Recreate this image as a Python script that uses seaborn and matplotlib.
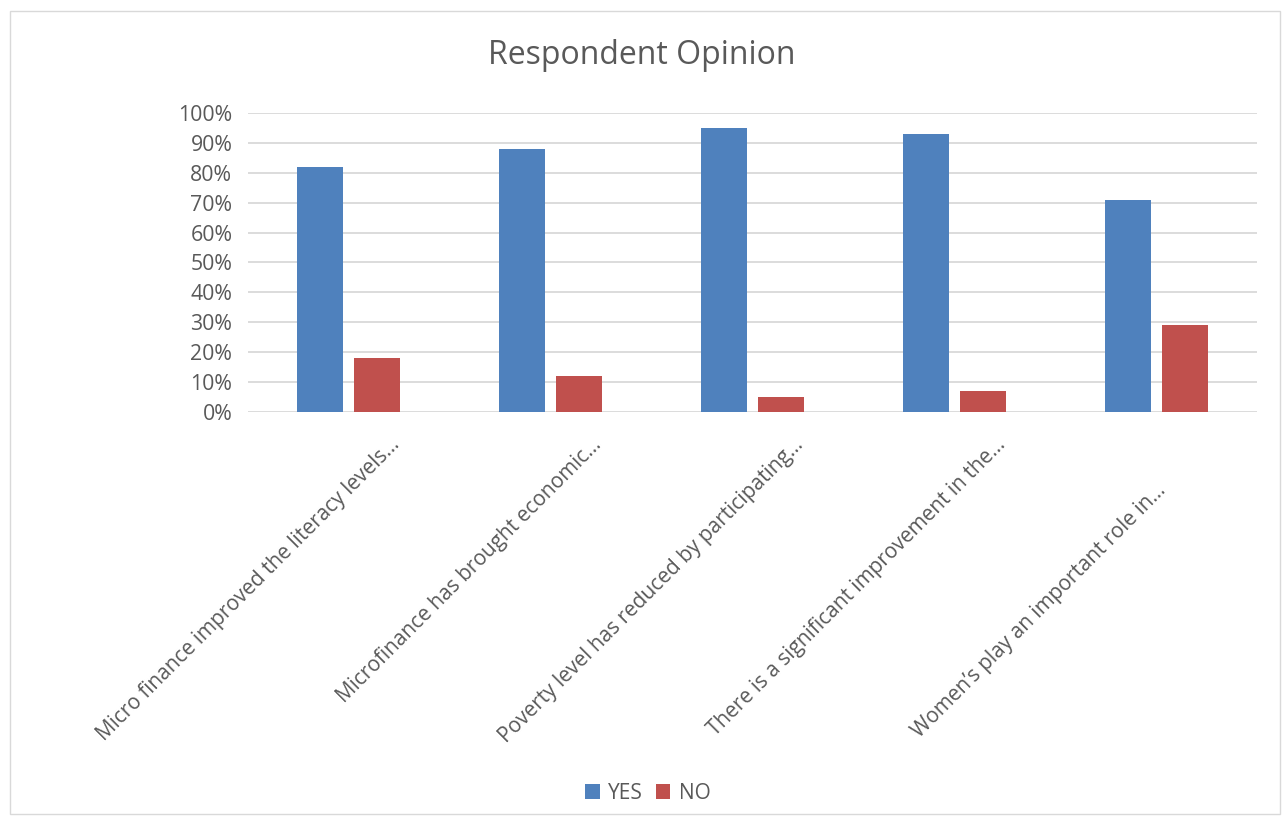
import matplotlib
matplotlib.use("Agg")
import matplotlib.pyplot as plt
import matplotlib.transforms as mtransforms
import seaborn as sns
import pandas as pd
from matplotlib.patches import Rectangle
from matplotlib.ticker import PercentFormatter

categories = [
    "Micro finance improved the literacy levels...",
    "Microfinance has brought economic...",
    "Poverty level has reduced by participating...",
    "There is a significant improvement in the...",
    "Women\u2019s play an important role in...",
]
yes_values = [0.82, 0.88, 0.95, 0.93, 0.71]
no_values = [0.18, 0.12, 0.05, 0.07, 0.29]
series_names = ["YES", "NO"]
colors = ["#4F81BD", "#C0504D"]

df = pd.DataFrame({
    "category": categories * 2,
    "value": yes_values + no_values,
    "series": [series_names[0]] * 5 + [series_names[1]] * 5,
})

sns.set_theme(style="white")
plt.rcParams["font.family"] = ["Open Sans", "DejaVu Sans"]
text_color = "#595959"

fig = plt.figure(figsize=(12.83, 8.24), dpi=100)
ax = fig.add_axes([0.193, 0.5, 0.787, 0.363])

sns.barplot(data=df, x="category", y="value", hue="series", palette=colors,
            width=0.57, gap=0.2, ax=ax, legend=True, saturation=1, linewidth=0)

ax.set_ylim(0, 1.0)
ax.set_xlim(-0.5, 4.5)
ax.set_yticks([i / 10 for i in range(11)])
ax.yaxis.set_major_formatter(PercentFormatter(1.0, decimals=0))
ax.grid(axis="y", color="#D9D9D9", linewidth=1.3)
ax.set_axisbelow(True)
for s in ax.spines.values():
    s.set_visible(False)
ax.set_xlabel("")
ax.set_ylabel("")
ax.tick_params(axis="y", labelsize=15.3, colors=text_color, length=0, pad=11)
ax.tick_params(axis="x", labelsize=15, colors=text_color, length=0, pad=0)
xlabels = ax.get_xticklabels()
for i, lbl in enumerate(xlabels):
    if i == len(xlabels) - 1:
        off = mtransforms.ScaledTranslation(6 / 100, -75 / 100, fig.dpi_scale_trans)
    else:
        off = mtransforms.ScaledTranslation(48 / 100, -30 / 100, fig.dpi_scale_trans)
    lbl.set_rotation(45)
    lbl.set_ha("right")
    lbl.set_va("center")
    lbl.set_rotation_mode("anchor")
    lbl.set_transform(lbl.get_transform() + off)

fig.suptitle("Respondent Opinion", y=0.933, va="center", fontsize=23, color=text_color)

handles, labels = ax.get_legend_handles_labels()
ax.legend_.remove()
fig.legend(handles, labels, loc="center", bbox_to_anchor=(0.505, 0.037), ncol=2,
           frameon=False, fontsize=15, labelcolor=text_color, handlelength=0.7,
           handleheight=0.7, handletextpad=0.4, columnspacing=0.6)

fig.patches.append(Rectangle((0.008, 0.012), 0.99, 0.975, transform=fig.transFigure,
                             fill=False, edgecolor="#D9D9D9", linewidth=1))

fig.savefig("out.png", dpi=100)
